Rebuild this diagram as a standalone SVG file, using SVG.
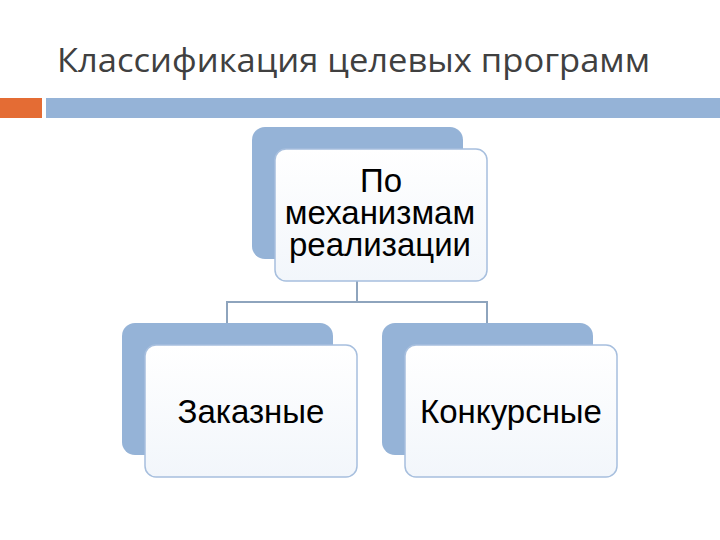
<svg xmlns="http://www.w3.org/2000/svg" width="720" height="540" viewBox="0 0 720 540">
<style>
.title{font-family:"Open Sans","Noto Sans",sans-serif;font-size:33px;fill:#404040}
.back{fill:#95B3D7}
.front{fill:url(#fg);stroke:#A7BFDE;stroke-width:1.5}
.lbl{font-family:"Liberation Sans",Arial,sans-serif;font-size:33px;fill:#000;text-anchor:middle}
.conn{fill:none;stroke:#8EA4BD;stroke-width:2}
</style>
<defs>
<linearGradient id="fg" x1="0" y1="0" x2="0" y2="1">
<stop offset="0" stop-color="#FFFFFF"/>
<stop offset="1" stop-color="#F2F6FB"/>
</linearGradient>
</defs>
<rect width="720" height="540" fill="#FFFFFF"/>
<text class="title" x="57" y="72" textLength="593" lengthAdjust="spacingAndGlyphs">Классификация целевых программ</text>
<rect x="0" y="98" width="42" height="20" fill="#E46C34"/>
<rect x="46" y="98" width="674" height="20" fill="#95B3D7"/>
<g id="connectors">
<path class="conn" d="M357 281V302M227 325V302H487V325"/>
</g>
<g id="node-top">
<rect class="back" x="252" y="127" width="211" height="132" rx="13"/>
<rect class="front" x="275" y="149" width="212" height="132" rx="11"/>
<text class="lbl" x="381" y="192">По</text>
<text class="lbl" x="380" y="224">механизмам</text>
<text class="lbl" x="380" y="256">реализации</text>
</g>
<g id="node-left">
<rect class="back" x="122" y="323" width="211" height="132" rx="13"/>
<rect class="front" x="145" y="345" width="212" height="132" rx="11"/>
<text class="lbl" x="251" y="423">Заказные</text>
</g>
<g id="node-right">
<rect class="back" x="382" y="323" width="211" height="132" rx="13"/>
<rect class="front" x="405" y="345" width="212" height="132" rx="11"/>
<text class="lbl" x="511" y="423">Конкурсные</text>
</g>
</svg>
